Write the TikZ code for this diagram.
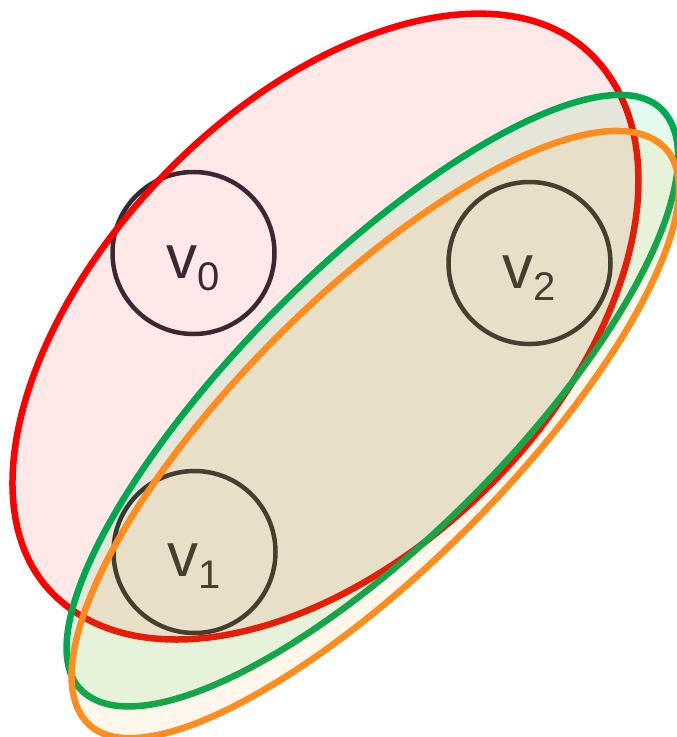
\documentclass[tikz,border=0pt]{standalone}
\usepackage{fontspec}
\setmainfont{Liberation Sans}
\definecolor{vtxcol}{RGB}{42,44,56}
\definecolor{redline}{RGB}{255,0,0}
\definecolor{redfill}{RGB}{255,0,0}
\definecolor{greenline}{RGB}{0,168,80}
\definecolor{greenfill}{RGB}{0,205,85}
\definecolor{orangeline}{RGB}{255,140,28}
\definecolor{orangefill}{RGB}{255,153,0}
\tikzset{
  vtx/.style={circle, draw=vtxcol, line width=4.5pt, minimum size=162pt, inner sep=0pt},
  lbl/.style={anchor=base, inner sep=0pt, text=vtxcol, font=\fontsize{62}{62}\selectfont},
  edgeshape/.style={line width=6.5pt, line join=round},
  rededge/.style={edgeshape, draw=redline, fill=redfill, fill opacity=0.09, draw opacity=1},
  greenedge/.style={edgeshape, draw=greenline, fill=greenfill, fill opacity=0.1, draw opacity=1},
  orangeedge/.style={edgeshape, draw=orangeline, fill=orangefill, fill opacity=0.08, draw opacity=1},
  tilted/.style={x={(0.7071pt,0.7071pt)}, y={(0.7071pt,-0.7071pt)}},
}
\newcommand{\vsub}[1]{\raisebox{-12pt}{\fontsize{40}{40}\selectfont #1}}
% #1 style, #2 a+, #3 a-, #4 b+ (lower right side), #5 b- (upper left side)
\newcommand{\eggpath}[5]{%
  \path[#1] (#2,0)
    arc[start angle=0, end angle=90, x radius=#2, y radius=#4]
    arc[start angle=90, end angle=180, x radius=#3, y radius=#4]
    arc[start angle=180, end angle=270, x radius=#3, y radius=#5]
    arc[start angle=270, end angle=360, x radius=#2, y radius=#5] -- cycle;}
\begin{document}
\begin{tikzpicture}[x=1pt,y=-1pt]
\useasboundingbox (0,0) rectangle (677,737);
% vertices
\node[vtx] (v0) at (193.5,253) {};
\node[vtx] (v1) at (194.5,552) {};
\node[vtx] (v2) at (529.5,263) {};
\node[lbl] (l0) at ([yshift=-25pt]v0.center) {v\vsub{0}};
\node[lbl] (l1) at ([yshift=-24pt]v1.center) {v\vsub{1}};
\node[lbl] (l2) at ([yshift=-25pt]v2.center) {v\vsub{2}};
% red hyperedge {v0, v1, v2}
\begin{scope}[shift={(326,321)}, tilted]
  \eggpath{rededge}{376}{386}{232}{218}
\end{scope}
% green hyperedge {v1, v2}
\begin{scope}[shift={(371,400)}, tilted]
  \eggpath{greenedge}{411}{410}{140}{131}
\end{scope}
% orange hyperedge {v1, v2}
\begin{scope}[shift={(376,436)}, tilted]
  \eggpath{orangeedge}{408}{407}{130}{140}
\end{scope}
\end{tikzpicture}
\end{document}
